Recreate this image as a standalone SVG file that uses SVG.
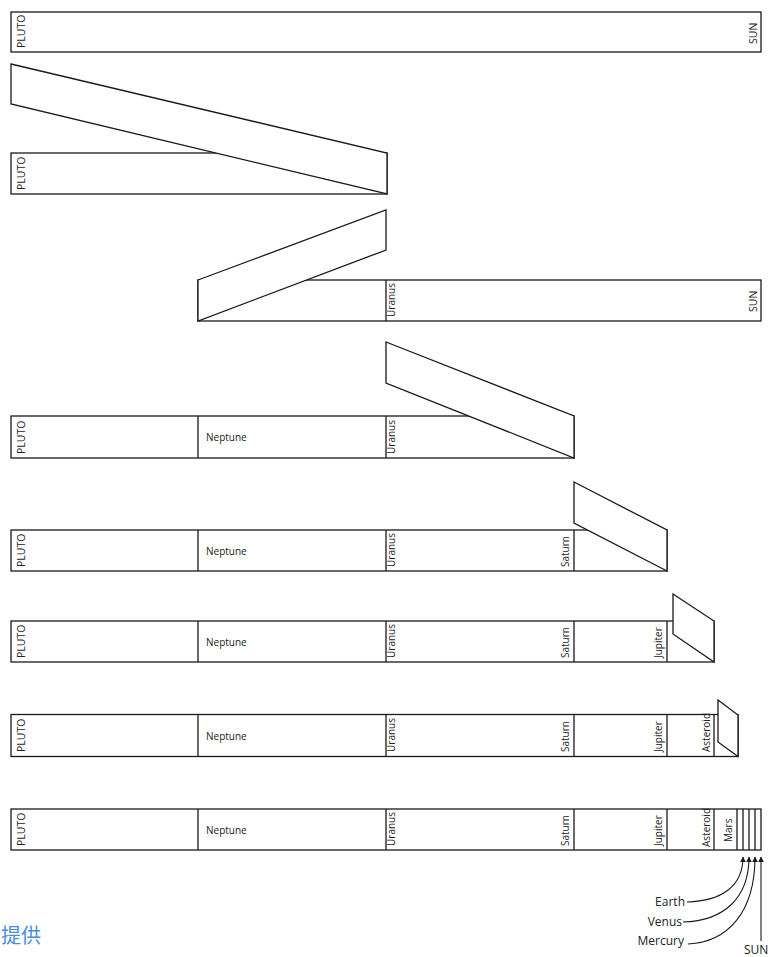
<svg xmlns="http://www.w3.org/2000/svg" width="770" height="957" viewBox="0 0 770 957">
<defs>
<style>
.s{fill:#fff;stroke:#1a1a1a;stroke-width:1.3}
.d{stroke:#1a1a1a;stroke-width:1.3;fill:none}
.t{font-family:"Open Sans","Noto Sans",sans-serif;font-size:10px;fill:#222}
.p{font-size:10.5px}
.l{font-family:"Open Sans","Noto Sans",sans-serif;font-size:12px;fill:#222}
.c{stroke:#1a1a1a;stroke-width:1.1;fill:none}
</style>
<marker id="ah" viewBox="0 0 10 10" refX="9" refY="5" markerWidth="6" markerHeight="6" orient="auto" markerUnits="userSpaceOnUse">
<path d="M0,0 L10,5 L0,10 z" fill="#1a1a1a"/>
</marker>
</defs>
<rect width="770" height="957" fill="#fff"/>

<g id="row1">
<rect class="s" x="11" y="12" width="750" height="40"/>
<text class="t p" transform="translate(24.5,48) rotate(-90)">PLUTO</text>
<text class="t p" transform="translate(757,44) rotate(-90)">SUN</text>
</g>

<g id="row2">
<rect class="s" x="11" y="153" width="376" height="41"/>
<text class="t p" transform="translate(24.5,190) rotate(-90)">PLUTO</text>
<polygon class="s" points="11,64 387,153 387,194 11,104"/>
</g>

<g id="row3">
<rect class="s" x="198" y="280" width="563" height="41"/>
<line class="d" x1="386" y1="280" x2="386" y2="321"/>
<text class="t" transform="translate(395,317) rotate(-90)">Uranus</text>
<text class="t p" transform="translate(757,312) rotate(-90)">SUN</text>
<polygon class="s" points="198,280 386,210 386,250 198,321"/>
</g>

<g id="row4">
<rect class="s" x="11" y="416" width="563" height="42"/>
<line class="d" x1="198" y1="416" x2="198" y2="458"/>
<line class="d" x1="386" y1="416" x2="386" y2="458"/>
<text class="t p" transform="translate(24.5,454) rotate(-90)">PLUTO</text>
<text class="t" x="206" y="441">Neptune</text>
<text class="t" transform="translate(395,454) rotate(-90)">Uranus</text>
<polygon class="s" points="386,342 574,416 574,458 386,383"/>
</g>

<g id="row5">
<rect class="s" x="11" y="530" width="656" height="41"/>
<line class="d" x1="198" y1="530" x2="198" y2="571"/>
<line class="d" x1="386" y1="530" x2="386" y2="571"/>
<line class="d" x1="574" y1="530" x2="574" y2="571"/>
<text class="t p" transform="translate(24.5,567) rotate(-90)">PLUTO</text>
<text class="t" x="206" y="555">Neptune</text>
<text class="t" transform="translate(395,567) rotate(-90)">Uranus</text>
<text class="t" transform="translate(569,567) rotate(-90)">Saturn</text>
<polygon class="s" points="574,482 667,530 667,571 574,523"/>
</g>

<g id="row6">
<rect class="s" x="11" y="621" width="703" height="41"/>
<line class="d" x1="198" y1="621" x2="198" y2="662"/>
<line class="d" x1="386" y1="621" x2="386" y2="662"/>
<line class="d" x1="574" y1="621" x2="574" y2="662"/>
<line class="d" x1="667" y1="621" x2="667" y2="662"/>
<text class="t p" transform="translate(24.5,658) rotate(-90)">PLUTO</text>
<text class="t" x="206" y="645.5">Neptune</text>
<text class="t" transform="translate(395,658) rotate(-90)">Uranus</text>
<text class="t" transform="translate(569,658) rotate(-90)">Saturn</text>
<text class="t" transform="translate(662,658) rotate(-90)">Jupiter</text>
<polygon class="s" points="673,594 714,621 714,662 673,634"/>
</g>

<g id="row7">
<rect class="s" x="11" y="714.5" width="727" height="42"/>
<line class="d" x1="198" y1="714.5" x2="198" y2="756.5"/>
<line class="d" x1="386" y1="714.5" x2="386" y2="756.5"/>
<line class="d" x1="574" y1="714.5" x2="574" y2="756.5"/>
<line class="d" x1="667" y1="714.5" x2="667" y2="756.5"/>
<line class="d" x1="714" y1="714.5" x2="714" y2="756.5"/>
<text class="t p" transform="translate(24.5,752) rotate(-90)">PLUTO</text>
<text class="t" x="206" y="739.5">Neptune</text>
<text class="t" transform="translate(395,752) rotate(-90)">Uranus</text>
<text class="t" transform="translate(569,752) rotate(-90)">Saturn</text>
<text class="t" transform="translate(662,752) rotate(-90)">Jupiter</text>
<text class="t" transform="translate(710,752) rotate(-90)">Asteroid</text>
<polygon class="s" points="718,700 738,715 738,756.5 718,742"/>
</g>

<g id="row8">
<rect class="s" x="11" y="809" width="750" height="41"/>
<line class="d" x1="198" y1="809" x2="198" y2="850"/>
<line class="d" x1="386" y1="809" x2="386" y2="850"/>
<line class="d" x1="574" y1="809" x2="574" y2="850"/>
<line class="d" x1="667" y1="809" x2="667" y2="850"/>
<line class="d" x1="714" y1="809" x2="714" y2="850"/>
<line class="d" x1="737" y1="809" x2="737" y2="850"/>
<line class="d" x1="743" y1="809" x2="743" y2="850"/>
<line class="d" x1="749" y1="809" x2="749" y2="850"/>
<line class="d" x1="755" y1="809" x2="755" y2="850"/>
<text class="t p" transform="translate(24.5,846) rotate(-90)">PLUTO</text>
<text class="t" x="206" y="833.5">Neptune</text>
<text class="t" transform="translate(395,846) rotate(-90)">Uranus</text>
<text class="t" transform="translate(569,846) rotate(-90)">Saturn</text>
<text class="t" transform="translate(662,846) rotate(-90)">Jupiter</text>
<text class="t" transform="translate(710,847) rotate(-90)">Asteroid</text>
<text class="t" transform="translate(732,842) rotate(-90)">Mars</text>
</g>

<g id="labels">
<text class="l" x="685" y="906" text-anchor="end">Earth</text>
<text class="l" x="682" y="926" text-anchor="end">Venus</text>
<text class="l" x="684" y="945" text-anchor="end">Mercury</text>
<text class="l" x="744" y="954">SUN</text>
</g>

<g id="connectors">
<path class="c" d="M687,902 C722,901 743,886 743,857" marker-end="url(#ah)"/>
<path class="c" d="M683,922 C724,921 749,898 749,857" marker-end="url(#ah)"/>
<path class="c" d="M688,944 C728,942 755,912 755,857" marker-end="url(#ah)"/>
<path class="c" d="M761,941 L761,857" marker-end="url(#ah)"/>
</g>

<text x="1" y="943" font-family="'Noto Sans CJK SC',sans-serif" font-size="20" fill="#4a8fd6">提供</text>
</svg>
